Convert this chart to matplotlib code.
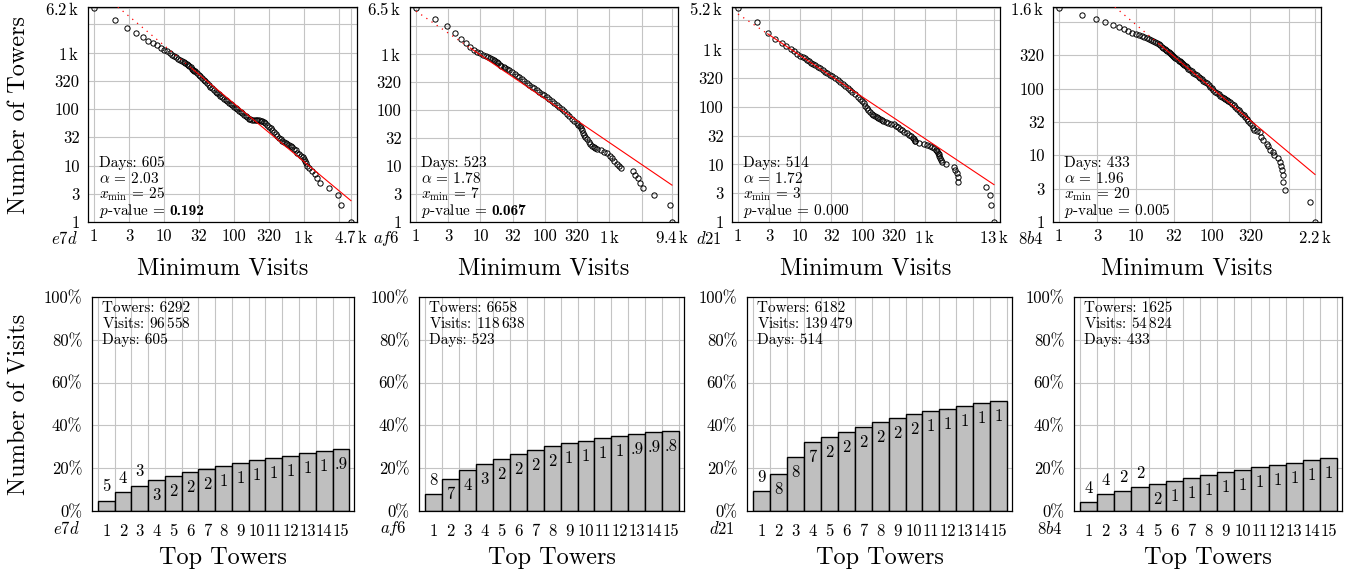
import numpy as np
import matplotlib
matplotlib.use('Agg')
import matplotlib.pyplot as plt

plt.rcParams['font.family'] = 'cmr10'
plt.rcParams['mathtext.fontset'] = 'cm'
plt.rcParams['axes.unicode_minus'] = False
plt.rcParams['axes.formatter.use_mathtext'] = True

# ---------------- data ----------------
users = ['e7d', 'af6', 'd21', '8b4']
days = [605, 523, 514, 433]
alphas = [2.03, 1.78, 1.72, 1.96]
xmins = [25, 7, 3, 20]
pvalues = ['0.192', '0.067', '0.000', '0.005']
p_bold = [True, True, False, False]
towers = [6292, 6658, 6182, 1625]
visits = [96558, 118638, 139479, 54824]
fit_y_at_xmin = [525, 1250, 1850, 470]

# CCDF points (minimum visits, number of towers)
e7d_x = [1, 2, 3, 4, 5, 6, 7, 8, 9, 10, 11, 12, 13, 14, 15, 16, 17, 18, 19, 20, 21, 22, 23, 24,
         25, 26, 27, 28, 30, 32, 33, 35, 37, 39, 41, 44, 46, 49, 52, 55, 58, 61, 64, 68, 72, 76,
         80, 85, 90, 95, 100, 106, 112, 118, 124, 131, 139, 147, 155, 164, 171, 179, 191, 204,
         216, 228, 241, 254, 268, 282, 298, 316, 334, 353, 373, 395, 417, 441, 466, 492, 520,
         550, 581, 614, 649, 685, 724, 765, 808, 855, 903, 955, 1000, 1040, 1070, 1120, 1175,
         1300, 1437, 1534, 1693, 2276, 3060, 3378, 4700]
e7d_y = [6200, 3750, 2740, 2235, 1870, 1633, 1483, 1349, 1209, 1114, 1055, 985, 920, 877, 836,
         770, 745, 720, 687, 655, 630, 605, 586, 551, 519, 500, 483, 466, 435, 406, 388, 354,
         331, 309, 290, 266, 249, 232, 218, 205, 194, 184, 173, 163, 154, 146, 138, 131, 124,
         117, 111, 106, 100, 94, 89, 84, 80, 76, 72, 68, 66, 64, 64, 64, 63, 63, 62, 61, 58, 56,
         52, 49, 46, 43, 40, 36, 33, 31, 29, 27, 26, 25, 24, 23, 22, 21, 20, 19, 17, 16, 15, 14,
         13, 12, 11, 10, 9, 8, 7, 6, 5, 4, 3, 2, 1]

af6_x = [1, 2, 3, 4, 5, 6, 7, 8, 9, 10, 11, 12, 13, 14, 15, 16, 17, 18, 19, 20, 21, 23, 24, 26,
         28, 31, 34, 37, 40, 44, 48, 52, 57, 63, 69, 75, 82, 90, 98, 107, 117, 128, 140, 153,
         168, 184, 201, 220, 240, 262, 287, 314, 330, 346, 360, 375, 390, 406, 426, 448, 476,
         506, 538, 572, 607, 643, 751, 817, 920, 1012, 1100, 1196, 1315, 1400, 1518, 2335, 2535,
         2790, 3050, 3337, 5000, 8670, 9400]
af6_y = [6500, 4080, 3055, 2350, 1833, 1535, 1300, 1180, 1087, 1015, 953, 895, 860, 830, 802,
         765, 730, 698, 668, 637, 608, 570, 555, 530, 500, 462, 432, 403, 376, 351, 327, 305,
         281, 259, 241, 225, 209, 194, 181, 169, 155, 143, 131, 120, 110, 101, 93, 85, 77, 69,
         63, 58, 54, 51, 47, 43, 39, 36, 33, 30, 27, 25, 23, 22, 21, 20, 19, 18, 17, 15, 14, 12,
         11, 10, 9, 8, 7, 6, 5, 4, 3, 2, 1]

d21_x = [1, 2, 3, 4, 5, 6, 7, 8, 9, 10, 11, 12, 13, 14, 15, 16, 17, 19, 21, 23, 25, 27, 30, 33,
         36, 40, 44, 48, 53, 58, 63, 69, 76, 84, 92, 98, 104, 110, 117, 124, 132, 141, 150, 160,
         170, 181, 192, 204, 217, 238, 262, 288, 316, 340, 366, 397, 430, 472, 518, 557, 600,
         639, 680, 693, 707, 825, 963, 1077, 1205, 1314, 1433, 1505, 1581, 1640, 1670, 1703,
         1750, 1800, 1928, 2208, 2937, 3100, 3290, 3400, 3420, 9800, 11400, 11700, 13000]
d21_y = [5200, 2930, 1910, 1500, 1280, 1120, 1018, 915, 835, 770, 730, 692, 651, 613, 585, 560,
         536, 501, 469, 439, 410, 384, 359, 336, 314, 294, 275, 252, 231, 213, 197, 180, 165,
         150, 137, 126, 115, 104, 94, 87, 80, 76, 72, 69, 66, 63, 61, 59, 57, 55, 53, 51, 50, 47,
         44, 41, 39, 37, 35, 33, 31, 29, 28, 26, 25, 24, 23, 22, 21, 20, 19, 18, 17, 16, 15, 14,
         13, 12, 11, 10, 9, 8, 7, 6, 5, 4, 3, 2, 1]

b84_x = [1, 2, 3, 4, 5, 6, 7, 8, 9, 10, 11, 12, 13, 14, 15, 16, 17, 18, 19, 20, 21, 22, 23, 24,
         25, 26, 27, 28, 29, 30, 31, 32, 33, 35, 37, 38, 39, 40, 42, 43, 45, 47, 49, 51, 54, 57,
         60, 63, 67, 70, 74, 77, 81, 85, 90, 94, 99, 104, 110, 115, 121, 127, 134, 141, 148, 155,
         163, 172, 181, 190, 200, 210, 221, 232, 244, 257, 270, 284, 298, 313, 329, 340, 352,
         390, 420, 430, 455, 516, 540, 567, 618, 643, 733, 770, 793, 809, 834, 840, 894, 1892,
         2200]
b84_y = [1600, 1244, 1096, 976, 900, 830, 775, 731, 690, 667, 637, 615, 588, 575, 561, 530, 512,
         494, 477, 461, 443, 425, 406, 388, 376, 365, 354, 343, 333, 323, 312, 301, 291, 276,
         262, 254, 246, 239, 230, 225, 218, 208, 199, 190, 181, 173, 165, 158, 151, 144, 137,
         131, 125, 119, 113, 107, 101, 95, 90, 86, 82, 78, 75, 72, 70, 67, 65, 62, 59, 56, 53,
         50, 47, 44, 42, 40, 38, 35, 33, 30, 28, 26, 24, 23, 22, 19, 17, 15, 14, 12, 11, 10, 9,
         8, 7, 6, 5, 4, 3, 2, 1]

ccdf_x = [e7d_x, af6_x, d21_x, b84_x]
ccdf_y = [e7d_y, af6_y, d21_y, b84_y]

# log tick values and labels for the top row
x_ticks = [
    [1, 3.162, 10, 31.62, 100, 316.2, 1000, 3162, 4700],
    [1, 3.162, 10, 31.62, 100, 316.2, 1000, 3162, 9400],
    [1, 3.162, 10, 31.62, 100, 316.2, 1000, 3162, 13000],
    [1, 3.162, 10, 31.62, 100, 316.2, 1000, 2200],
]
x_labels = [
    ['1', '3', '10', '32', '100', '320', '1$\\,$k', '', '4.7$\\,$k'],
    ['1', '3', '10', '32', '100', '320', '1$\\,$k', '', '9.4$\\,$k'],
    ['1', '3', '10', '32', '100', '320', '1$\\,$k', '', '13$\\,$k'],
    ['1', '3', '10', '32', '100', '320', '', '2.2$\\,$k'],
]
y_ticks = [
    [1, 3.162, 10, 31.62, 100, 316.2, 1000, 3162, 6200],
    [1, 3.162, 10, 31.62, 100, 316.2, 1000, 3162, 6500],
    [1, 3.162, 10, 31.62, 100, 316.2, 1000, 3162, 5200],
    [1, 3.162, 10, 31.62, 100, 316.2, 1000, 1600],
]
y_labels = [
    ['1', '3', '10', '32', '100', '320', '1$\\,$k', '', '6.2$\\,$k'],
    ['1', '3', '10', '32', '100', '320', '1$\\,$k', '', '6.5$\\,$k'],
    ['1', '3', '10', '32', '100', '320', '1$\\,$k', '', '5.2$\\,$k'],
    ['1', '3', '10', '32', '100', '320', '', '1.6$\\,$k'],
]

# share of visits of each of the top 15 towers (%)
e7d_share = [4.8, 3.9, 3.2, 2.6, 1.7, 1.9, 1.6, 1.2, 1.4, 1.3, 1.1, 1.2, 1.1, 1.0, 0.9]
af6_share = [8.0, 7.0, 4.1, 2.8, 2.4, 2.2, 2.1, 1.7, 1.4, 1.2, 1.0, 1.0, 0.9, 0.9, 0.8]
d21_share = [9.2, 8.0, 8.1, 6.9, 2.4, 2.3, 2.2, 2.4, 1.8, 1.8, 1.4, 1.3, 1.2, 1.4, 1.1]
b84_share = [4.1, 3.7, 1.6, 1.6, 1.6, 1.4, 1.4, 1.4, 1.4, 1.1, 1.1, 1.1, 1.0, 1.1, 1.1]
shares = [e7d_share, af6_share, d21_share, b84_share]
top_towers = list(range(1, 16))
pct_ticks = [0, 20, 40, 60, 80, 100]
pct_labels = ['0%', '20%', '40%', '60%', '80%', '100%']

# ---------------- layout ----------------
W, H = 1354, 571
fig = plt.figure(figsize=(W / 100, H / 100), dpi=100)
renderer = fig.canvas.get_renderer()


def rect(l, r, t, b):
    return [l / W, 1 - b / H, (r - l) / W, (b - t) / H]


top_rects = [rect(88, 357, 7, 222), rect(410, 678, 7, 222),
             rect(732, 1000, 7, 222), rect(1053, 1321, 7, 222)]
bot_rects = [rect(92, 354, 297, 511), rect(419, 684, 297, 511),
             rect(747, 1012, 297, 511), rect(1074, 1342, 297, 511)]

GRID = '#c4c4c4'
FS = 12
AFS = 11
LABFS = 17.5


def style_axes(ax):
    ax.set_axisbelow(True)
    ax.grid(True, color=GRID, lw=0.8)
    for s in ax.spines.values():
        s.set_linewidth(0.9)
        s.set_color('black')


for i in range(4):
    # ---------- top: CCDF with power-law fit ----------
    ax = fig.add_axes(top_rects[i])
    ax.set_xscale('log')
    ax.set_yscale('log')
    xs = np.array(ccdf_x[i], dtype=float)
    ys = np.array(ccdf_y[i], dtype=float)
    ax.plot(xs, ys, ls='none', marker='o', mfc='none', mec='black', ms=3.8, mew=0.7, zorder=3)

    a, xm, y0 = alphas[i], xmins[i], fit_y_at_xmin[i]
    xs_solid = np.array([xm, xs.max()])
    ax.plot(xs_solid, y0 * (xs_solid / xm) ** (1 - a), color='#ff0000', lw=0.8, zorder=4)
    xs_dot = np.array([1.0, xm])
    ax.plot(xs_dot, y0 * (xs_dot / xm) ** (1 - a), color='#ff0000', lw=0.9,
            ls=(0, (1, 4)), zorder=4)

    lx = np.log10(xs.max())
    pad = 0.0235 * lx
    ax.set_xlim(10 ** (-pad), 10 ** (lx + pad))
    ax.set_ylim(1, ys.max() * 1.04)
    ax.set_xticks(x_ticks[i])
    ax.set_xticklabels(x_labels[i])
    ax.set_yticks(y_ticks[i])
    ax.set_yticklabels(y_labels[i])
    ax.minorticks_off()
    ax.tick_params(length=0, labelsize=FS)
    ax.tick_params(axis='x', pad=5)
    ax.tick_params(axis='y', pad=6)
    style_axes(ax)

    lines = ['Days: %d' % days[i],
             '$\\alpha$ = %.2f' % a,
             '$x_{\\mathrm{min}}$ = %d' % xm]
    ypos = [0.258, 0.183, 0.108, 0.032]
    for t, yy in zip(lines, ypos[:3]):
        ax.text(0.04, yy, t, transform=ax.transAxes, fontsize=AFS, va='baseline', ha='left')
    if p_bold[i]:
        tp = ax.text(0.04, ypos[3], '$p$-value =', transform=ax.transAxes, fontsize=AFS,
                     va='baseline', ha='left')
        ext = tp.get_window_extent(renderer)
        xa = ax.transAxes.inverted().transform((ext.x1 + 4.5, ext.y0))[0]
        ax.text(xa, ypos[3], pvalues[i], transform=ax.transAxes, fontsize=AFS,
                family='cmb10', va='baseline', ha='left')
    else:
        ax.text(0.04, ypos[3], '$p$-value = ' + pvalues[i], transform=ax.transAxes,
                fontsize=AFS, va='baseline', ha='left')

    bb = ax.get_position()
    fig.text(bb.x0 - 10 / W, 1 - 239 / H, '$\\mathit{%s}$' % users[i], fontsize=FS,
             ha='right', va='center')
    fig.text(bb.x0 + bb.width / 2, 1 - 275 / H, 'Minimum Visits', fontsize=LABFS,
             ha='center', va='baseline')

    # ---------- bottom: cumulative share of top towers ----------
    axb = fig.add_axes(bot_rects[i])
    sh = np.array(shares[i])
    cum = np.cumsum(sh)
    axb.bar(top_towers, cum, width=1.0, color='#bfbfbf', edgecolor='black', lw=1.0, zorder=2)
    for xb, c, v in zip(top_towers, cum, sh):
        lab = ('%.0f' % v) if v >= 0.95 else '.%d' % int(round(v * 10))
        if c >= 12.2:
            axb.annotate(lab, (xb, c), xytext=(0, -5.5), textcoords='offset points',
                         ha='center', va='top', fontsize=FS, zorder=3)
        else:
            axb.annotate(lab, (xb, c), xytext=(0, 4.5), textcoords='offset points',
                         ha='center', va='bottom', fontsize=FS, zorder=3)
    axb.set_xlim(0.15, 15.78)
    axb.set_ylim(0, 100)
    axb.set_xticks(top_towers)
    axb.set_xticklabels([str(t) for t in top_towers])
    axb.set_xticks(np.arange(0.5, 16, 1.0), minor=True)
    axb.set_yticks(pct_ticks)
    axb.set_yticklabels(pct_labels)
    axb.tick_params(which='both', length=0, labelsize=FS)
    axb.tick_params(axis='x', pad=9)
    axb.tick_params(axis='y', pad=7)
    axb.set_axisbelow(True)
    axb.grid(True, which='minor', axis='x', color=GRID, lw=0.8)
    axb.grid(True, which='major', axis='y', color=GRID, lw=0.8)
    for s in axb.spines.values():
        s.set_linewidth(0.9)
        s.set_color('black')

    vis = ('{:,}'.format(visits[i])).replace(',', '$\\,$')
    blines = ['Towers: %d' % towers[i], 'Visits: ' + vis, 'Days: %d' % days[i]]
    for t, yy in zip(blines, [0.930, 0.855, 0.780]):
        axb.text(0.038, yy, t, transform=axb.transAxes, fontsize=AFS, va='baseline',
                 ha='left')

    bb2 = axb.get_position()
    fig.text(bb2.x0 - 12 / W, 1 - 528 / H, '$\\mathit{%s}$' % users[i], fontsize=FS,
             ha='right', va='center')
    fig.text(bb2.x0 + bb2.width / 2, 1 - 564 / H, 'Top Towers', fontsize=LABFS,
             ha='center', va='baseline')

fig.text(19 / W, 1 - 114.5 / H, 'Number of Towers', fontsize=LABFS, rotation=90,
         ha='center', va='center')
fig.text(19 / W, 1 - 404 / H, 'Number of Visits', fontsize=LABFS, rotation=90,
         ha='center', va='center')

fig.savefig('out.png', dpi=100)
